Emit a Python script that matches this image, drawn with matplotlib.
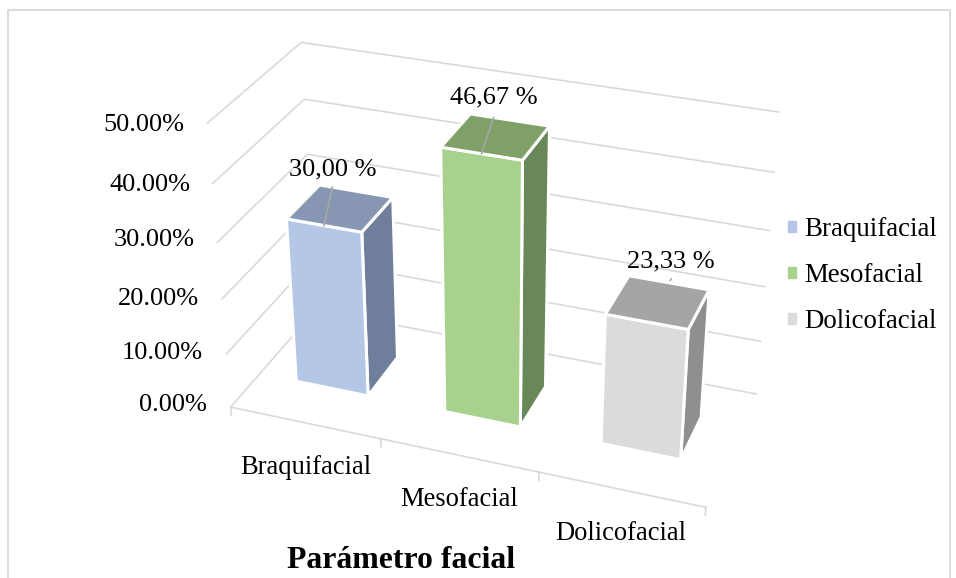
import matplotlib
matplotlib.use('Agg')
import matplotlib.pyplot as plt
from matplotlib.lines import Line2D
from matplotlib.patches import Patch

plt.rcParams['font.family'] = ['Liberation Serif', 'DejaVu Serif']

categories = ['Braquifacial', 'Mesofacial', 'Dolicofacial']
values = [30.00, 46.67, 23.33]
value_labels = ['30,00 %', '46,67 %', '23,33 %']
yticks = [0, 10, 20, 30, 40, 50]
ytick_labels = ['0.00%', '10.00%', '20.00%', '30.00%', '40.00%', '50.00%']
front_colors = ['#B4C7E7', '#A9D18E', '#DBDBDB']
top_colors = ['#8797B3', '#7FA067', '#A5A5A5']
side_colors = ['#6F7F9B', '#68885A', '#8F8F8F']

W, H = 956, 578
fig = plt.figure(figsize=(W / 100, H / 100), dpi=100)

# view fitted against the reference corners, axes is a 1000px square
ax = fig.add_axes([-18.7 / W, (H - 778.4) / H, 1000 / W, 1000 / H], projection='3d', computed_zorder=False)
ax.set_proj_type('persp', focal_length=0.353)
ax.view_init(elev=29.348, azim=-70.031)
ax.set_box_aspect((3, 1.246, 1.922), zoom=0.618)
ax.set_xlim(0, 3)
ax.set_ylim(0, 1)
ax.set_zlim(0, 50)
ax.set_axis_off()

grid = '#D9D9D9'
for z in yticks:
    ax.plot([0, 0, 3], [0, 1, 1], [z, z, z], color=grid, lw=1.2, zorder=1)
ax.plot([0, 3], [0, 0], [0, 0], color=grid, lw=1.2, zorder=1)
for x in range(4):
    ax.plot([x, x], [0, 0], [0, -1.5], color=grid, lw=1.2, zorder=1)

bar_x0, bar_x1 = 0.254, 0.744
bar_y0, bar_y1 = 0.324, 0.705
leader_end = [0.34, 0.40, 0.50]
leader = '#A6A6A6'

for i, v in enumerate(values):
    face_colors = ['white', top_colors[i], front_colors[i], 'white', 'white', side_colors[i]]
    ax.bar3d(i + bar_x0, bar_y0, 0, bar_x1 - bar_x0, bar_y1 - bar_y0, v, color=face_colors, shade=False,
             edgecolor='white', linewidth=2.2, zorder=3 + i)
    if i < 2:
        ax.plot([i + 0.5, i + leader_end[i]], [bar_y0, bar_y1], [v, v], color=leader, lw=1.2, zorder=8)
    else:
        # the third leader only shows as a stub past the rear edge
        ax.plot([i + 0.5, i + 0.5], [bar_y1, bar_y1 + 0.04], [v, v], color=leader, lw=1.2, zorder=2)


def px_text(x, y, s, **kw):
    fig.text(x / W, 1 - y / H, s, **kw)


label_pos = [(333, 169), (494, 97), (671, 261)]
for (x, y), s in zip(label_pos, value_labels):
    px_text(x, y, s, ha='center', va='center', fontsize=19)

tick_pos = [(207, 405), (203, 353), (199, 299), (195, 240), (190, 185), (184, 125)]
for (x, y), s in zip(tick_pos, ytick_labels):
    px_text(x, y, s, ha='right', va='center', fontsize=19)

cat_pos = [(306, 467), (459, 499), (621, 533)]
for (x, y), s in zip(cat_pos, categories):
    px_text(x, y, s, ha='center', va='center', fontsize=19.1)

px_text(401, 560, 'Parámetro facial', ha='center', va='center', fontsize=22.9, fontweight='bold')

handles = [Patch(color=c) for c in front_colors]
fig.legend(handles, categories, loc='center left', bbox_to_anchor=(788 / W, 1 - 275.5 / H), frameon=False,
           fontsize=19.4, handlelength=0.3, handleheight=0.25, handletextpad=0.3, labelspacing=0.77,
           borderpad=0, borderaxespad=0)

border = '#D9D9D9'
fig.add_artist(Line2D([8 / W, 8 / W, 950 / W, 950 / W], [0, 1 - 10 / H, 1 - 10 / H, 0], color=border, lw=1.3))

fig.savefig('out.png', dpi=100)
